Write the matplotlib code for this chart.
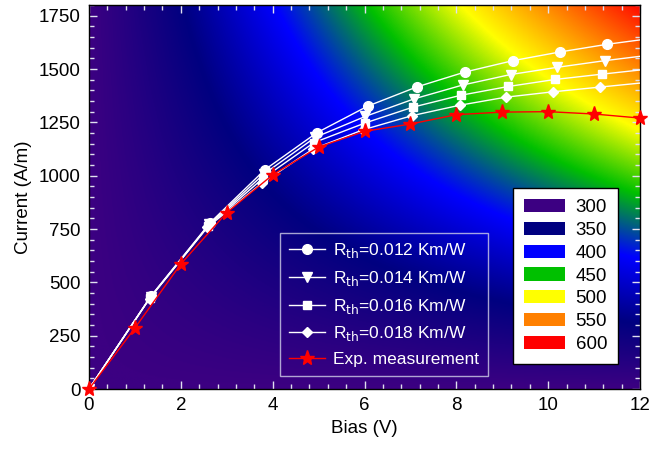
import numpy as np
import matplotlib
matplotlib.use("Agg")
import matplotlib.pyplot as plt
from matplotlib.colors import LinearSegmentedColormap
from matplotlib.patches import Patch
from matplotlib.lines import Line2D
from matplotlib.ticker import MultipleLocator

plt.rcParams['font.family'] = ['Liberation Sans', 'DejaVu Sans']

# ---- data ----
bias_012 = [0, 1.35, 2.64, 3.83, 4.96, 6.07, 7.14, 8.19, 9.23, 10.26, 11.29, 12.30]
curr_012 = [0, 436, 780, 1028, 1201, 1326, 1416, 1486, 1539, 1580, 1616, 1645]
bias_014 = [0, 1.34, 2.62, 3.81, 4.93, 6.02, 7.08, 8.14, 9.18, 10.20, 11.23, 12.25]
curr_014 = [0, 432, 772, 1008, 1180, 1278, 1360, 1425, 1474, 1508, 1539, 1566]
bias_016 = [0, 1.33, 2.60, 3.79, 4.90, 6.00, 7.05, 8.10, 9.13, 10.15, 11.18, 12.20]
curr_016 = [0, 428, 765, 988, 1155, 1246, 1321, 1377, 1418, 1451, 1476, 1500]
bias_018 = [0, 1.32, 2.58, 3.77, 4.88, 5.97, 7.03, 8.07, 9.08, 10.10, 11.12, 12.14]
curr_018 = [0, 424, 758, 966, 1125, 1215, 1281, 1330, 1368, 1393, 1415, 1437]
bias_exp = [0, 1, 2, 3, 4, 5, 6, 7, 8, 9, 10, 11, 12]
curr_exp = [0, 286, 586, 827, 1004, 1134, 1208, 1242, 1286, 1298, 1300, 1289, 1270]

series_labels = [r'R$_{\rm th}$=0.012 Km/W', r'R$_{\rm th}$=0.014 Km/W',
                 r'R$_{\rm th}$=0.016 Km/W', r'R$_{\rm th}$=0.018 Km/W']
exp_label = 'Exp. measurement'

temp_levels = [300, 350, 400, 450, 500, 550, 600]
temp_colors = ['#3c0082', '#000080', '#0000ff', '#00c000', '#ffff00', '#ff8000', '#ff0000']

# background temperature field: T = T0 + Rth_bg * (V * I)
T0 = 300.0
rth_bg = 0.0137

# ---- figure ----
fig = plt.figure(figsize=(6.52, 4.50), dpi=100)
ax = fig.add_axes([89/652, 61/450, 551/652, 384/450])

cmap = LinearSegmentedColormap.from_list(
    'temp', [((t - 300) / 300.0, c) for t, c in zip(temp_levels, temp_colors)])
vv = np.linspace(0, 12, 600)
ii = np.linspace(0, 1800, 600)
VV, II = np.meshgrid(vv, ii)
TT = T0 + rth_bg * VV * II
ax.imshow(TT, extent=[0, 12, 0, 1800], origin='lower', aspect='auto',
          cmap=cmap, vmin=300, vmax=600, interpolation='bilinear', zorder=0)

ax.plot(bias_012, curr_012, '-o', color='white', lw=1.0, ms=7, mec='white', zorder=3)
ax.plot(bias_014, curr_014, '-v', color='white', lw=1.0, ms=7, mec='white', zorder=3)
ax.plot(bias_016, curr_016, '-s', color='white', lw=1.0, ms=6, mec='white', zorder=3)
ax.plot(bias_018, curr_018, '-D', color='white', lw=1.0, ms=5.5, mec='white', zorder=3)
ax.plot(bias_exp, curr_exp, '-*', color='#ff0000', lw=1.0, ms=11, mec='#ff0000',
        zorder=4, clip_on=False)

ax.set_xlim(0, 12)
ax.set_ylim(0, 1800)
ax.xaxis.set_major_locator(MultipleLocator(2))
ax.xaxis.set_minor_locator(MultipleLocator(0.4))
ax.yaxis.set_major_locator(MultipleLocator(250))
ax.yaxis.set_minor_locator(MultipleLocator(50))
ax.tick_params(which='both', direction='in', top=True, right=True,
               color='#e0e0f0', labelsize=13.5, pad=6)
ax.tick_params(which='major', length=6, width=1)
ax.tick_params(which='minor', length=3.5, width=1)
for s in ax.spines.values():
    s.set_color('black')
    s.set_linewidth(1)
ax.set_xlabel('Bias (V)', fontsize=13.5, labelpad=4)
ax.set_ylabel('Current (A/m)', fontsize=13.5, labelpad=5)

# legend for series
handles = [
    Line2D([], [], color='white', lw=1, marker='o', ms=7),
    Line2D([], [], color='white', lw=1, marker='v', ms=7),
    Line2D([], [], color='white', lw=1, marker='s', ms=6),
    Line2D([], [], color='white', lw=1, marker='D', ms=5.5),
    Line2D([], [], color='#ff0000', lw=1, marker='*', ms=11),
]
leg1 = ax.legend(handles, series_labels + [exp_label], loc='lower left',
                 bbox_to_anchor=(0.347, 0.034), fontsize=12.5, frameon=True,
                 fancybox=False, facecolor='none', edgecolor='#d0d0e8',
                 labelcolor='white', handlelength=2.1, handletextpad=0.45,
                 labelspacing=0.5, borderpad=0.5, borderaxespad=0)
leg1.get_frame().set_linewidth(1)
ax.add_artist(leg1)

patches = [Patch(facecolor=c, edgecolor='none') for c in temp_colors]
leg2 = ax.legend(patches, [str(t) for t in temp_levels], loc='lower left',
                 bbox_to_anchor=(0.769, 0.065), fontsize=13.5, frameon=True,
                 fancybox=False, facecolor='white', edgecolor='black',
                 framealpha=1, handlelength=2.2, handleheight=0.7,
                 handletextpad=0.55, labelspacing=0.3, borderpad=0.6,
                 borderaxespad=0)
leg2.get_frame().set_linewidth(1)

fig.savefig('out.png', dpi=100)
